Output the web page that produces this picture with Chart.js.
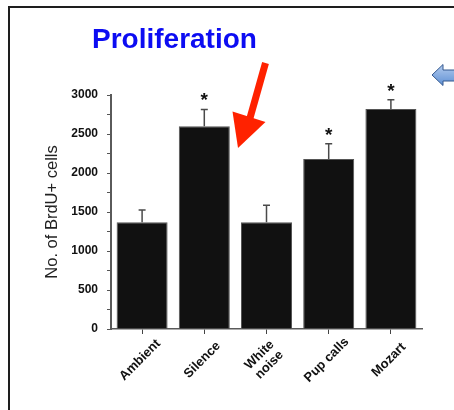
<!DOCTYPE html>
<html>
<head>
<meta charset="utf-8">
<script src="https://cdn.jsdelivr.net/npm/chart.js@4.4.1/dist/chart.umd.min.js"></script>
<style>
  html, body { margin: 0; padding: 0; background: #fff; overflow: hidden; }
  canvas { display: block; }
</style>
</head>
<body>
<canvas id="c" width="454" height="410"></canvas>
<script>
// BrdU+ cell counts per acoustic condition (mean and SEM)
const categories = ['Ambient', 'Silence', ['White', 'noise'], 'Pup calls', 'Mozart'];
const brduCells = [1370, 2600, 1370, 2180, 2820];
const sem = [155, 215, 215, 195, 120];
const significant = [false, true, false, true, true];
const yTickLabels = [0, 500, 1000, 1500, 2000, 2500, 3000];
const titleText = 'Proliferation';
const yTitle = 'No. of BrdU+ cells';

const FONT = '"Liberation Sans", Arial, Helvetica, sans-serif';

// Error bars, significance stars, rotated category labels and slide decorations
const decor = {
  id: 'decor',
  afterDatasetsDraw(chart) {
    const { ctx, scales: { x, y } } = chart;
    ctx.save();
    ctx.strokeStyle = '#4a4a4a';
    ctx.lineWidth = 1.5;
    brduCells.forEach((v, i) => {
      const px = x.getPixelForValue(i);
      const yBar = y.getPixelForValue(v);
      const yTop = y.getPixelForValue(v + sem[i]);
      ctx.beginPath();
      ctx.moveTo(px, yBar);
      ctx.lineTo(px, yTop);
      ctx.moveTo(px - 3.5, yTop);
      ctx.lineTo(px + 3.5, yTop);
      ctx.stroke();
      if (significant[i]) {
        ctx.font = 'bold 19px ' + FONT;
        ctx.fillStyle = '#111';
        ctx.textAlign = 'center';
        ctx.textBaseline = 'alphabetic';
        const m = ctx.measureText('*');
        const h = m.actualBoundingBoxAscent - m.actualBoundingBoxDescent;
        const cy = yTop - 12.5;
        ctx.fillText('*', px, cy + m.actualBoundingBoxAscent - (m.actualBoundingBoxAscent + m.actualBoundingBoxDescent) / 2);
      }
    });
    ctx.restore();
  },
  afterDraw(chart) {
    const { ctx, scales: { x } } = chart;
    ctx.save();

    // slide frame
    ctx.strokeStyle = '#1e1e1e';
    ctx.lineWidth = 2;
    ctx.beginPath();
    ctx.moveTo(9, 412);
    ctx.lineTo(9, 7);
    ctx.lineTo(456, 7);
    ctx.stroke();

    // heading
    ctx.font = 'bold 28px ' + FONT;
    ctx.fillStyle = '#0c0cf2';
    ctx.textAlign = 'left';
    ctx.textBaseline = 'alphabetic';
    ctx.fillText(titleText, 92, 48);

    // category labels at 45 degrees
    ctx.font = 'bold 13px ' + FONT;
    ctx.fillStyle = '#111';
    ctx.textAlign = 'center';
    ctx.textBaseline = 'middle';
    categories.forEach((lab, i) => {
      const lines = Array.isArray(lab) ? lab : [lab];
      const cx = x.getPixelForValue(i) - 2;
      const cy = x.top + 31;
      ctx.save();
      ctx.translate(cx, cy);
      ctx.rotate(-Math.PI / 4);
      lines.forEach((t, k) => {
        ctx.fillText(t, 0, (k - (lines.length - 1) / 2) * 14);
      });
      ctx.restore();
    });

    // red pointer arrow
    ctx.fillStyle = '#ff2200';
    ctx.strokeStyle = '#ff2200';
    ctx.lineWidth = 7;
    ctx.lineCap = 'butt';
    ctx.beginPath();
    ctx.moveTo(265.5, 63);
    ctx.lineTo(250, 118);
    ctx.stroke();
    ctx.beginPath();
    ctx.moveTo(232.5, 111.5);
    ctx.lineTo(265.5, 122);
    ctx.lineTo(238, 148);
    ctx.closePath();
    ctx.fill();

    // blue block arrow
    const g = ctx.createLinearGradient(0, 64, 0, 86);
    g.addColorStop(0, '#b5cdef');
    g.addColorStop(1, '#5d8fd4');
    ctx.fillStyle = g;
    ctx.strokeStyle = '#34598f';
    ctx.lineWidth = 1;
    ctx.beginPath();
    ctx.moveTo(432, 75);
    ctx.lineTo(443, 64.5);
    ctx.lineTo(443, 70);
    ctx.lineTo(457, 70);
    ctx.lineTo(457, 81);
    ctx.lineTo(443, 81);
    ctx.lineTo(443, 85.5);
    ctx.closePath();
    ctx.fill();
    ctx.stroke();

    ctx.restore();
  }
};

new Chart(document.getElementById('c'), {
  type: 'bar',
  data: {
    labels: categories,
    datasets: [{
      data: brduCells,
      backgroundColor: '#111111',
      borderColor: '#555555',
      borderWidth: 1,
      barPercentage: 0.82,
      categoryPercentage: 1
    }]
  },
  options: {
    responsive: false,
    animation: false,
    events: [],
    layout: { padding: { left: 40, top: 95, right: 32, bottom: 0 } },
    plugins: { legend: { display: false }, tooltip: { enabled: false } },
    scales: {
      x: {
        grid: { display: true, drawOnChartArea: false, offset: false, tickLength: 5, color: '#444', lineWidth: 1 },
        border: { display: true, color: '#5a5a5a', width: 1.5 },
        ticks: { display: false },
        afterFit(s) { s.height = 81; }
      },
      y: {
        min: 0,
        max: 3000,
        grid: { display: true, drawOnChartArea: false, tickLength: 4, color: '#555', lineWidth: 1 },
        border: { display: true, color: '#5a5a5a', width: 2 },
        ticks: {
          stepSize: 250,
          padding: 9,
          color: '#111',
          font: { family: FONT, size: 12, weight: 'bold' },
          callback: (v) => (yTickLabels.includes(v) ? String(v) : '')
        },
        title: {
          display: true,
          text: yTitle,
          color: '#222',
          font: { family: FONT, size: 16.5, weight: 'normal' },
          padding: { top: 3, bottom: 0 }
        },
        afterFit(s) { s.width = 71; }
      }
    }
  },
  plugins: [decor]
});
</script>
</body>
</html>
